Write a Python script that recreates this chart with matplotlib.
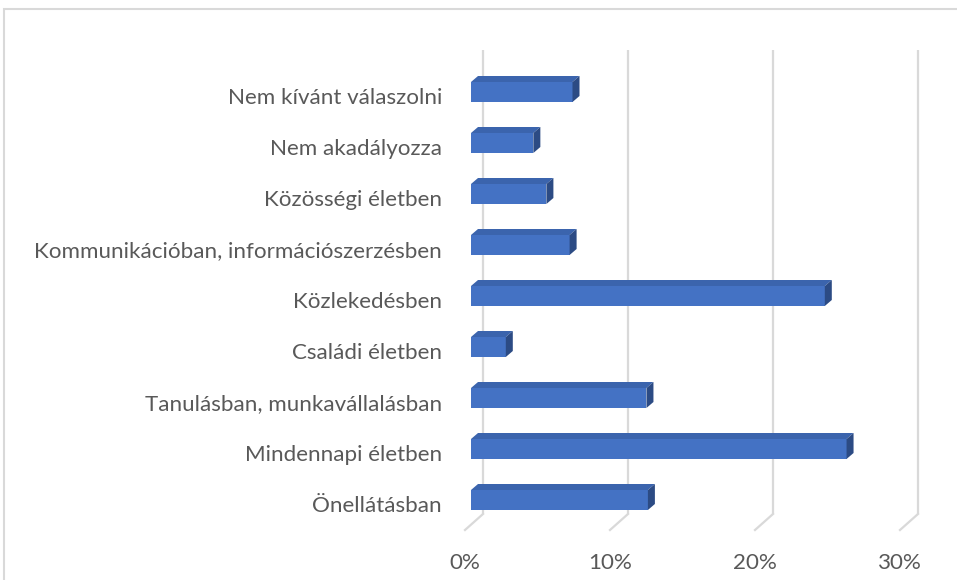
import matplotlib
matplotlib.use('Agg')
import matplotlib.pyplot as plt
from matplotlib.patches import Polygon, Rectangle

# data (bottom -> top)
categories = ['Önellátásban', 'Mindennapi életben', 'Tanulásban, munkavállalásban',
              'Családi életben', 'Közlekedésben',
              'Kommunikációban, információszerzésben', 'Közösségi életben',
              'Nem akadályozza', 'Nem kívánt válaszolni']
values = [12.2, 25.9, 12.1, 2.4, 24.4, 6.8, 5.2, 4.3, 7.0]
ticks = [0, 10, 20, 30]
tick_labels = ['0%', '10%', '20%', '30%']

plt.rcParams['font.family'] = ['Lato', 'DejaVu Sans']
txt_col = '#595959'
grid_col = '#d9d9d9'
front_col = '#4472c4'
top_col = '#3b64ad'
side_col = '#2c4b84'

W, H = 957, 580
fig = plt.figure(figsize=(W / 100, H / 100), dpi=100)
# axes = front plane of the bars, in pixels
left_px, right_px, top_px, bot_px = 471, 906, 50, 530
ax = fig.add_axes([left_px / W, (H - bot_px) / H,
                   (right_px - left_px) / W, (bot_px - top_px) / H])
pitch = 51.0
xs = (right_px - left_px) / 30.0  # px per %
ylo = (500 - bot_px) / pitch
yhi = (500 - top_px) / pitch
ax.set_xlim(0, 30)
ax.set_ylim(ylo, yhi)
ax.axis('off')

# frame round the chart
fig.patches.append(Rectangle((4 / W, -0.1), 1.1, (H - 9) / H + 0.1,
                             transform=fig.transFigure, fill=False,
                             edgecolor=grid_col, lw=1.5))

# gridlines (back wall + slanted floor part)
back_dx = 12 / xs
front_dx = -6 / xs
floor_back = (500 - 514) / pitch
for t in ticks:
    ax.plot([t + back_dx, t + back_dx], [floor_back, yhi], color=grid_col,
            lw=1.6, zorder=1, clip_on=False, solid_capstyle='butt')
    ax.plot([t + back_dx, t + front_dx], [floor_back, ylo], color=grid_col,
            lw=1.6, zorder=1, clip_on=False)

# 3D-looking bars
h = 20 / pitch
dx = 7 / xs
dy = 6 / pitch
ypos = list(range(len(categories)))
ax.barh(ypos, values, height=h, color=front_col, zorder=3)
for y, v in zip(ypos, values):
    ax.add_patch(Polygon([(0, y + h / 2), (v, y + h / 2), (v + dx, y + h / 2 + dy),
                          (dx, y + h / 2 + dy)], closed=True, facecolor=top_col,
                         edgecolor='none', zorder=3))
    ax.add_patch(Polygon([(v, y - h / 2), (v + dx, y - h / 2 + dy),
                          (v + dx, y + h / 2 + dy), (v, y + h / 2)], closed=True,
                         facecolor=side_col, edgecolor='none', zorder=3))

# category labels
for y, c in zip(ypos, categories):
    ax.text(-29 / xs, y - 12 / pitch, c, ha='right', va='baseline',
            fontsize=16.1, color=txt_col, clip_on=False)

# value axis labels
for t, lab in zip(ticks, tick_labels):
    ax.text(t + front_dx, ylo - 33 / pitch, lab, ha='center', va='center',
            fontsize=16.1, color=txt_col, clip_on=False)

fig.savefig('out.png', dpi=100)
